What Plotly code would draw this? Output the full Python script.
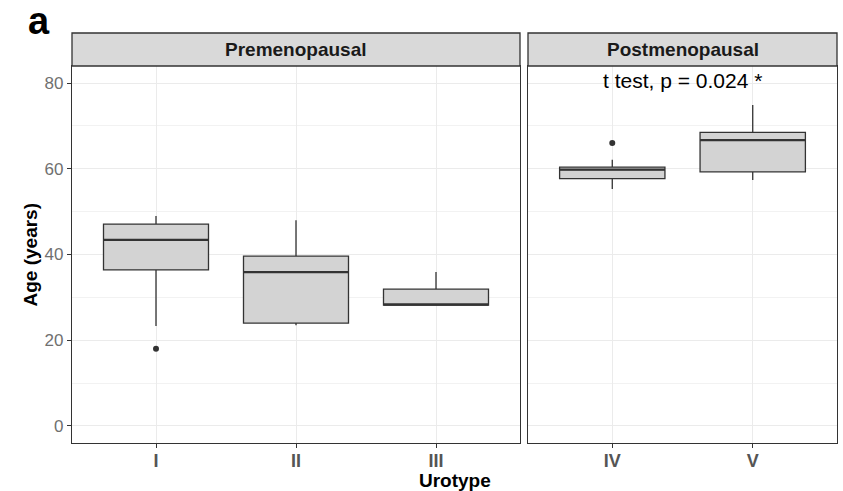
import plotly.graph_objects as go

# Age by urotype, split by menopausal status
pre_types = ["I", "II", "III"]
pre_q1 = [36.4, 24.0, 28.2]
pre_median = [43.4, 35.9, 28.3]
pre_q3 = [47.1, 39.6, 31.9]
pre_low = [23.3, 23.5, 28.2]
pre_high = [49.0, 48.0, 35.9]
pre_out_x = ["I"]
pre_out_y = [18.0]

post_types = ["IV", "V"]
post_q1 = [57.7, 59.3]
post_median = [59.8, 66.7]
post_q3 = [60.4, 68.5]
post_low = [55.3, 57.4]
post_high = [62.1, 74.9]
post_out_x = ["IV"]
post_out_y = [66.0]

y_ticks = [0, 20, 40, 60, 80]
strip_labels = ["Premenopausal", "Postmenopausal"]
test_label = "t test, p = 0.024 *"

W, H = 843, 491
FONT = "Liberation Sans, Arial, sans-serif"
DARK = "#333333"
BOX_FILL = "#D3D3D3"
GRID = "#EBEBEB"
STRIP_FILL = "#D9D9D9"

# panel geometry in pixels
left_px = (72, 520)
right_px = (528, 837)
panel_top, panel_bot = 66, 443
strip_top = 33


def px_x(p):
    return p / W


def px_y(p):
    return 1 - p / H


fig = go.Figure()


def add_group(cats, q1, med, q3, lo, hi, ox, oy, xa, ya):
    fig.add_trace(go.Box(
        x=cats, q1=q1, median=med, q3=q3, lowerfence=lo, upperfence=hi,
        width=0.75, whiskerwidth=0, boxpoints=False,
        fillcolor=BOX_FILL, line=dict(color=DARK, width=1.3),
        xaxis=xa, yaxis=ya, showlegend=False, hoverinfo="skip",
    ))
    # thicker median bar on top of each box
    fig.add_trace(go.Box(
        x=cats, q1=med, median=med, q3=med, lowerfence=med, upperfence=med,
        width=0.75, whiskerwidth=0, boxpoints=False,
        fillcolor="rgba(0,0,0,0)", line=dict(color=DARK, width=2.2),
        xaxis=xa, yaxis=ya, showlegend=False, hoverinfo="skip",
    ))
    fig.add_trace(go.Scatter(
        x=ox, y=oy, mode="markers",
        marker=dict(color=DARK, size=6),
        xaxis=xa, yaxis=ya, showlegend=False, hoverinfo="skip",
    ))


add_group(pre_types, pre_q1, pre_median, pre_q3, pre_low, pre_high,
          pre_out_x, pre_out_y, "x", "y")
add_group(post_types, post_q1, post_median, post_q3, post_low, post_high,
          post_out_x, post_out_y, "x2", "y2")

ydom = [px_y(panel_bot), px_y(panel_top)]
yrange = [-4, 84]

common_x = dict(
    type="category", showgrid=True, gridcolor=GRID, gridwidth=1,
    showline=True, mirror=True, linecolor=DARK, linewidth=1.3,
    ticks="outside", ticklen=4, tickwidth=1.2, tickcolor=DARK,
    ticklabelstandoff=-3,
    tickfont=dict(family=FONT, size=18, color="#555555", weight="bold"),
    zeroline=False, fixedrange=True,
)
common_y = dict(
    range=yrange, domain=ydom, tickvals=y_ticks, showgrid=True,
    gridcolor=GRID, gridwidth=1.2,
    minor=dict(dtick=10, tick0=0, showgrid=True, gridcolor="#F2F2F2", gridwidth=1),
    showline=True, mirror=True, linecolor=DARK, linewidth=1.3,
    zeroline=False, fixedrange=True,
)

fig.update_layout(
    width=W, height=H,
    margin=dict(l=0, r=0, t=0, b=0),
    paper_bgcolor="white", plot_bgcolor="white",
    boxmode="overlay",
    xaxis=dict(common_x, domain=[px_x(left_px[0]), px_x(left_px[1])],
               categoryorder="array", categoryarray=pre_types,
               range=[-0.6, len(pre_types) - 0.4], anchor="y"),
    xaxis2=dict(common_x, domain=[px_x(right_px[0]), px_x(right_px[1])],
                categoryorder="array", categoryarray=post_types,
                range=[-0.6, len(post_types) - 0.4], anchor="y2"),
    yaxis=dict(common_y, anchor="x", ticks="outside", ticklen=4, tickwidth=1.2,
               tickcolor=DARK,
               tickfont=dict(family=FONT, size=17, color="#707070")),
    yaxis2=dict(common_y, anchor="x2", showticklabels=False, ticks=""),
)

# facet strips
for (x0, x1), label in zip([left_px, right_px], strip_labels):
    fig.add_shape(type="rect", xref="paper", yref="paper",
                  x0=px_x(x0), x1=px_x(x1), y0=px_y(panel_top), y1=px_y(strip_top),
                  fillcolor=STRIP_FILL, line=dict(color=DARK, width=1.3), layer="above")
    fig.add_annotation(text=f"<b>{label}</b>", xref="paper", yref="paper",
                       x=px_x((x0 + x1) / 2), y=px_y((panel_top + strip_top) / 2),
                       xanchor="center", yanchor="middle", showarrow=False,
                       font=dict(family=FONT, size=19, color="#1A1A1A"))

# test result label
fig.add_annotation(text=test_label, xref="paper", yref="paper",
                   x=px_x((right_px[0] + right_px[1]) / 2), y=px_y(80),
                   xanchor="center", yanchor="middle", showarrow=False,
                   font=dict(family=FONT, size=21, color="black"))

# axis titles
fig.add_annotation(text="<b>Age (years)</b>", xref="paper", yref="paper",
                   x=px_x(30), y=px_y((panel_top + panel_bot) / 2),
                   xanchor="center", yanchor="middle", textangle=-90, showarrow=False,
                   font=dict(family=FONT, size=19, color="black"))
fig.add_annotation(text="<b>Urotype</b>", xref="paper", yref="paper",
                   x=px_x((left_px[0] + right_px[1]) / 2), y=px_y(468),
                   xanchor="center", yanchor="top", showarrow=False,
                   font=dict(family=FONT, size=19, color="black"))

# panel tag
fig.add_annotation(text="<b>a</b>", xref="paper", yref="paper",
                   x=px_x(26), y=px_y(21),
                   xanchor="left", yanchor="middle", showarrow=False,
                   font=dict(family=FONT, size=38, color="black"))

fig.write_html("out.html")
